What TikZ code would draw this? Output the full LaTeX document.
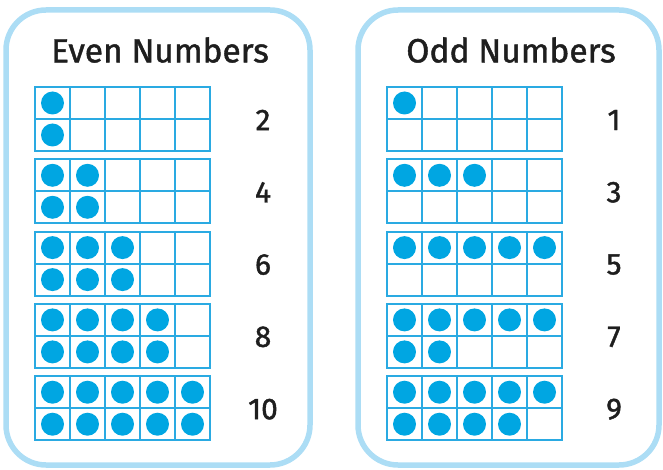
\documentclass[tikz,border=0pt]{standalone}
\usepackage{fontspec}
\setmainfont{Fira Sans}
\newfontfamily\medfont{Fira Sans}[FakeBold=1.3]
\definecolor{cardblue}{HTML}{ACDDF5}
\definecolor{gridblue}{HTML}{2AAAE2}
\definecolor{dotblue}{HTML}{00A6E2}
\definecolor{txt}{HTML}{1E1E1E}
\begin{document}
\begin{tikzpicture}[x=1pt,y=-1pt,
  card/.style={draw=cardblue,line width=5.5pt,rounded corners=40pt},
  gridline/.style={draw=gridblue,line width=1.8pt},
  dot/.style={fill=dotblue,draw=none},
  title/.style={font=\medfont\fontsize{33.5}{35}\selectfont,text=txt},
  num/.style={font=\medfont\fontsize{30}{32}\selectfont,text=txt}]
\useasboundingbox (0,0) rectangle (663,470);
\draw[card] (6,10) rectangle (310,465);
\draw[card] (358,10) rectangle (659,465);
\node[title] (evenT) at (160,50) {Even Numbers};
\node[title] (oddT) at (511,50) {Odd Numbers};
% even frames
\foreach \i in {1,...,5}{
  \pgfmathsetmacro{\top}{87+(\i-1)*72.3}
  \begin{scope}[shift={(35,\top)}]
    \foreach \c in {1,...,\i}{
      \fill[dot] ({(\c-0.5)*35},16) circle (11.5);
      \fill[dot] ({(\c-0.5)*35},48) circle (11.5);
    }
    \draw[gridline] (0,0) rectangle (175,64);
    \draw[gridline] (0,32) -- (175,32);
    \foreach \c in {1,...,4}{\draw[gridline] (\c*35,0) -- (\c*35,64);}
  \end{scope}
  \pgfmathtruncatemacro{\n}{2*\i}
  \node[num] (e\i) at (263,\top+33) {\n};
}
% odd frames
\foreach \i in {1,...,5}{
  \pgfmathsetmacro{\top}{87+(\i-1)*72.3}
  \pgfmathtruncatemacro{\n}{2*\i-1}
  \pgfmathtruncatemacro{\a}{min(\n,5)}
  \pgfmathtruncatemacro{\b}{max(\n-5,0)}
  \begin{scope}[shift={(387,\top)}]
    \foreach \c in {1,...,\a}{
      \fill[dot] ({(\c-0.5)*35},16) circle (11.5);
    }
    \ifnum\b>0
      \foreach \c in {1,...,\b}{
        \fill[dot] ({(\c-0.5)*35},48) circle (11.5);
      }
    \fi
    \draw[gridline] (0,0) rectangle (175,64);
    \draw[gridline] (0,32) -- (175,32);
    \foreach \c in {1,...,4}{\draw[gridline] (\c*35,0) -- (\c*35,64);}
  \end{scope}
  \node[num] (o\i) at (614,\top+33) {\n};
}
\end{tikzpicture}
\end{document}
